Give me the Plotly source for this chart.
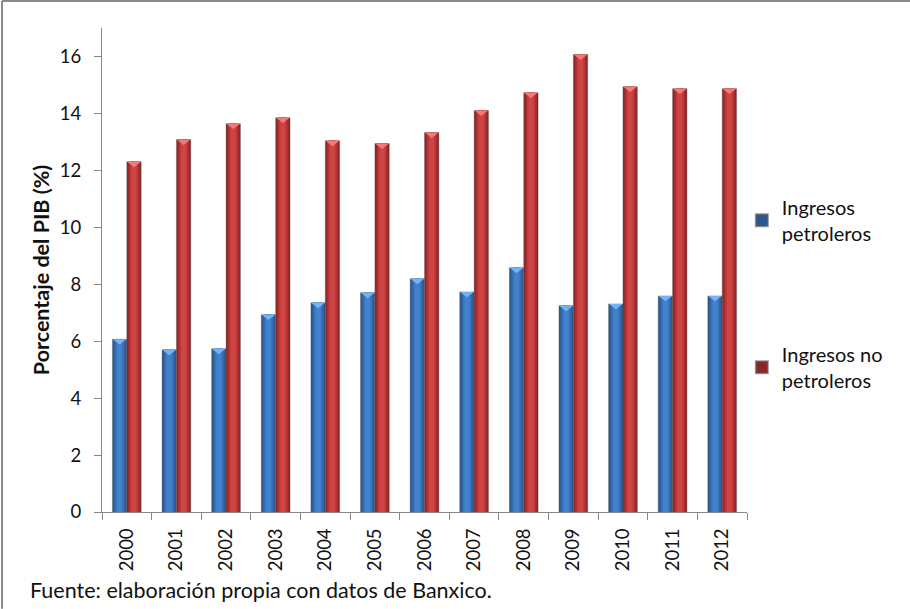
import plotly.graph_objects as go

# Ingresos presupuestarios del sector público, % del PIB
years = ["2000", "2001", "2002", "2003", "2004", "2005", "2006",
         "2007", "2008", "2009", "2010", "2011", "2012"]
petroleros = [6.07, 5.70, 5.73, 6.93, 7.35, 7.70, 8.19,
              7.73, 8.58, 7.24, 7.31, 7.59, 7.59]
no_petroleros = [12.30, 13.08, 13.64, 13.85, 13.04, 12.94, 13.33,
                 14.10, 14.73, 16.07, 14.94, 14.87, 14.87]

FONT = "Lato"
INK = "#111111"
BAR_W = 0.29          # width of each bar, in category units
TIP = 0.19            # depth of the bevel highlight at the top of each bar

series = [
    # name, values, offset, colour ramp (edge -> centre), bevel colour
    ("Ingresos<br>petroleros", petroleros, -BAR_W / 2,
     ["#2b5890", "#3366a6", "#3a75bd", "#4282cc"], "#74b4f2"),
    ("Ingresos no<br>petroleros", no_petroleros, BAR_W / 2,
     ["#8e2626", "#a82f2f", "#bf3a3a", "#cf4444"], "#f27a7a"),
]

fig = go.Figure()
idx = list(range(len(years)))

for k, (name, vals, off, ramp, bevel) in enumerate(series):
    xs = [i + off for i in idx]
    # cylinder-like shading: progressively narrower, lighter bars
    for j, col in enumerate(ramp):
        w = BAR_W * (1 - 0.22 * j)
        fig.add_trace(go.Bar(
            x=xs, y=vals, width=[w] * len(xs),
            marker=dict(color=col,
                        line=dict(width=0.6 if j == 0 else 0,
                                  color="rgba(90,90,90,0.6)")),
            name=name, legendgroup=f"g{k}", showlegend=(j == 0),
            hoverinfo="skip" if j else None,
        ))
    # bevelled top highlight
    tx, ty = [], []
    for x, v in zip(xs, vals):
        tx += [x - BAR_W / 2 * 0.95, x + BAR_W / 2 * 0.95, x, x - BAR_W / 2 * 0.95, None]
        ty += [v, v, v - TIP, v, None]
    fig.add_trace(go.Scatter(
        x=tx, y=ty, mode="lines", fill="toself", fillcolor=bevel,
        line=dict(width=0), showlegend=False, hoverinfo="skip",
    ))

fig.update_layout(
    width=910, height=609,
    margin=dict(l=102, r=163, t=28, b=97),
    paper_bgcolor="white", plot_bgcolor="white",
    barmode="overlay",
    font=dict(family=FONT, size=18, color=INK),
    showlegend=True,
    legend=dict(
        x=0.992, y=0.67, xanchor="left", yanchor="top",
        font=dict(family=FONT, size=20, color=INK),
        tracegroupgap=92, itemsizing="constant",
        bgcolor="rgba(0,0,0,0)",
    ),
    xaxis=dict(
        range=[-0.5, 12.5], tickmode="array", tickvals=idx, ticktext=years,
        tickangle=-90, ticks="", showgrid=False, zeroline=False,
        showline=True, linecolor="#868686", linewidth=1,
        tickfont=dict(family=FONT, size=18.5, color=INK),
        ticklabelstandoff=8,
        minor=dict(tick0=-0.5, dtick=1, ticks="outside", ticklen=7,
                   tickcolor="#868686", showgrid=False),
    ),
    yaxis=dict(
        range=[0, 17], tickmode="array", tickvals=list(range(0, 17, 2)),
        ticks="outside", ticklen=7, tickcolor="#868686",
        showgrid=False, zeroline=False,
        showline=True, linecolor="#868686", linewidth=1,
        tickfont=dict(family=FONT, size=18.5, color=INK),
        ticklabelstandoff=9,
        title=dict(text="<b>Porcentaje del PIB (%)</b>",
                   font=dict(family=FONT, size=21.5, color=INK),
                   standoff=4),
    ),
    annotations=[dict(
        text="Fuente: elaboración propia con datos de Banxico.",
        xref="paper", yref="paper", x=-0.115, y=-0.162,
        xanchor="left", yanchor="middle", showarrow=False,
        font=dict(family=FONT, size=21.5, color=INK),
    )],
    shapes=[
        # outer frame (left and top edges)
        dict(type="line", xref="paper", yref="paper",
             x0=-0.155, x1=1.26, y0=1.056, y1=1.056,
             line=dict(color="#8a8a8a", width=2)),
        dict(type="line", xref="paper", yref="paper",
             x0=-0.155, x1=-0.155, y0=1.056, y1=-0.2,
             line=dict(color="#8a8a8a", width=2)),
    ],
)

fig.write_html("out.html")
